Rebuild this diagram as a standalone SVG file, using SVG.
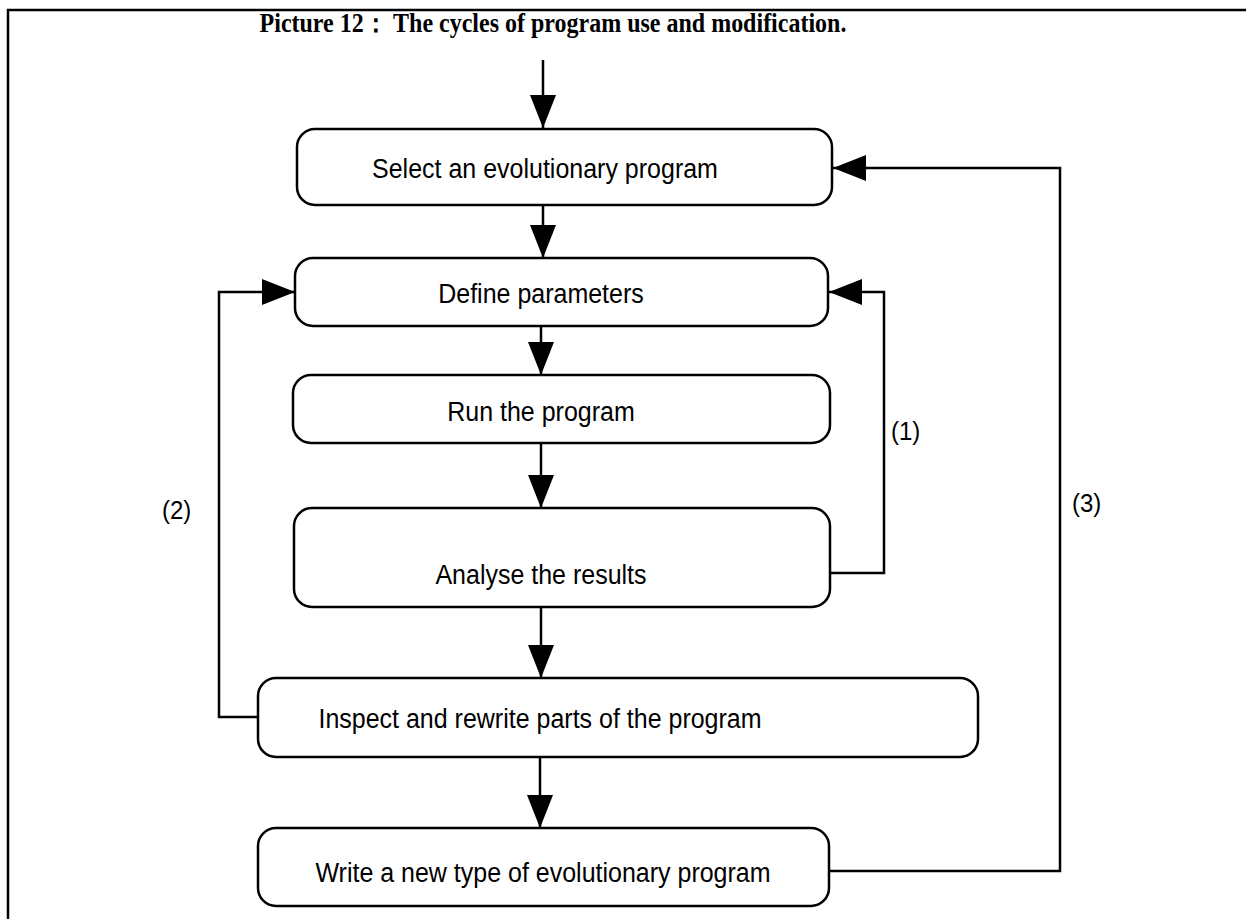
<svg xmlns="http://www.w3.org/2000/svg" width="1246" height="919" viewBox="0 0 1246 919">
<defs>
<marker id="ah" markerWidth="34" markerHeight="26" refX="33" refY="13" orient="auto" markerUnits="userSpaceOnUse">
<path d="M0,0 L33,13 L0,26 Z" fill="#000"/>
</marker>
<style>
.box{fill:#fff;stroke:#000;stroke-width:2.5}
.lbl{font-family:"Liberation Sans",Arial,sans-serif;font-size:25px;fill:#000;text-anchor:middle;transform-box:fill-box;transform-origin:center;transform:scaleY(1.12)}
.num{font-family:"Liberation Sans",Arial,sans-serif;font-size:24px;fill:#000;transform-box:fill-box;transform-origin:center;transform:scaleY(1.1)}
.ttl{font-family:"Liberation Serif","Times New Roman",serif;font-weight:bold;font-size:24px;text-anchor:middle;transform-box:fill-box;transform-origin:center;transform:scaleY(1.1)}
.ln{fill:none;stroke:#000;stroke-width:2.5}
</style>
</defs>
<rect width="1246" height="919" fill="#fff"/>
<path d="M8,919 L8,10 L1246,10" fill="none" stroke="#000" stroke-width="2.5"/>
<text class="ttl" x="553" y="31">Picture 12： The cycles of program use and modification.</text>
<g id="connectors">
<line class="ln" x1="543" y1="60" x2="543" y2="128" marker-end="url(#ah)"/>
<line class="ln" x1="543" y1="205" x2="543" y2="258" marker-end="url(#ah)"/>
<line class="ln" x1="541" y1="326" x2="541" y2="375" marker-end="url(#ah)"/>
<line class="ln" x1="541" y1="443" x2="541" y2="508" marker-end="url(#ah)"/>
<line class="ln" x1="541" y1="607" x2="541" y2="678" marker-end="url(#ah)"/>
<line class="ln" x1="540" y1="757" x2="540" y2="828" marker-end="url(#ah)"/>
<polyline class="ln" points="830,573 884,573 884,292 829,292" marker-end="url(#ah)"/>
<polyline class="ln" points="258,717 219,717 219,292 295,292" marker-end="url(#ah)"/>
<polyline class="ln" points="829,871 1060,871 1060,168 833,168" marker-end="url(#ah)"/>
<text class="num" x="891" y="439">(1)</text>
<text class="num" x="162" y="518">(2)</text>
<text class="num" x="1072" y="511">(3)</text>
</g>
<g id="n1"><rect class="box" x="297" y="129" width="535" height="76" rx="18"/><text class="lbl" x="545" y="177">Select an evolutionary program</text></g>
<g id="n2"><rect class="box" x="295" y="258" width="533" height="68" rx="18"/><text class="lbl" x="541" y="302">Define parameters</text></g>
<g id="n3"><rect class="box" x="293" y="375" width="537" height="68" rx="18"/><text class="lbl" x="541" y="420">Run the program</text></g>
<g id="n4"><rect class="box" x="294" y="508" width="536" height="99" rx="18"/><text class="lbl" x="541" y="583">Analyse the results</text></g>
<g id="n5"><rect class="box" x="258" y="678" width="720" height="79" rx="18"/><text class="lbl" x="540" y="727">Inspect and rewrite parts of the program</text></g>
<g id="n6"><rect class="box" x="258" y="828" width="571" height="78" rx="18"/><text class="lbl" x="543" y="881">Write a new type of evolutionary program</text></g>
</svg>
